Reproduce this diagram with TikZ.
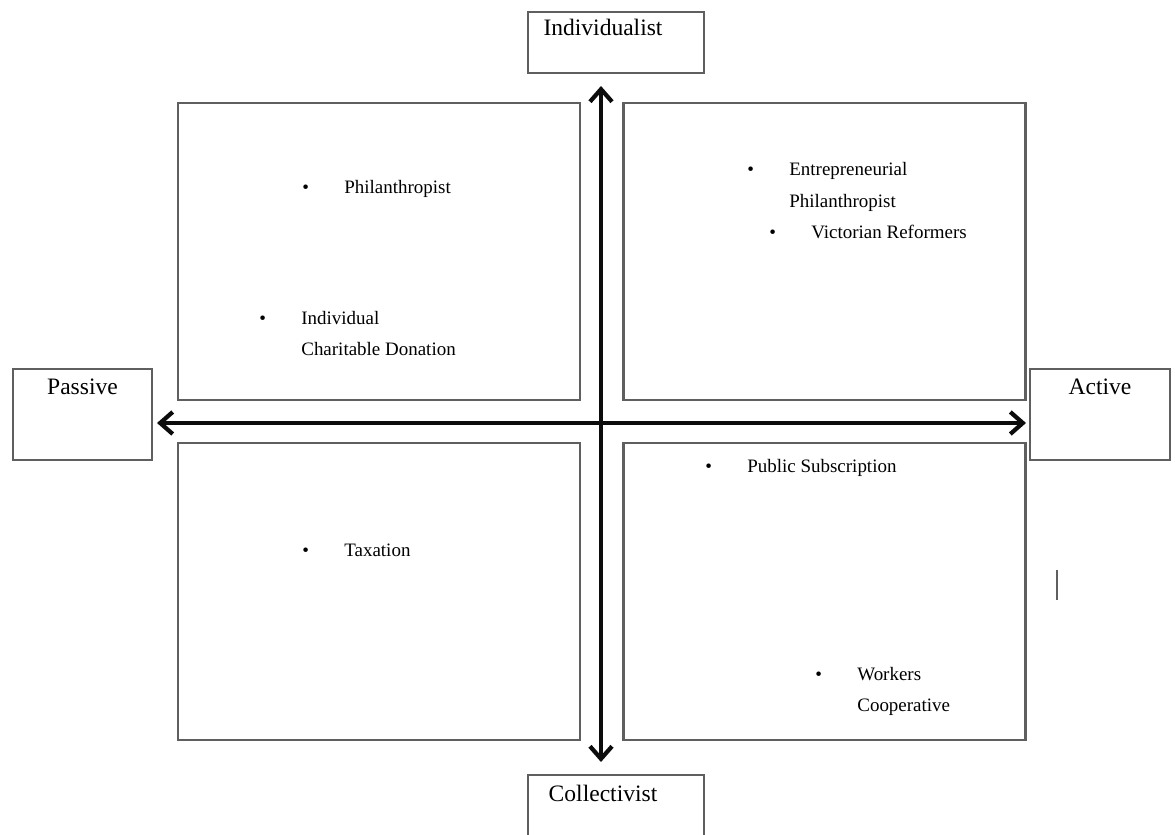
\documentclass[tikz,border=0pt]{standalone}
\usepackage{fontspec}
\setmainfont{Liberation Serif}
\usetikzlibrary{positioning, arrows.meta}
\definecolor{BoxGrey}{RGB}{95, 95, 95}
\definecolor{AxisBlack}{RGB}{12, 12, 12}

\newcommand{\bulletpoint}[1]{%
  \begin{tabular}[t]{@{}p{0.84cm}@{}l@{}}\textbullet & #1\end{tabular}}

\tikzset{
  quadbox/.style={draw=BoxGrey, line width=1.3pt, inner sep=0pt,
                  minimum width=8.04cm, minimum height=5.94cm},
  axisbox/.style={draw=BoxGrey, line width=1.1pt, inner sep=0pt},
  axistext/.style={inner sep=0pt, font=\fontsize{13.4}{16}\selectfont},
  axisarrow/.style={AxisBlack, line width=2.4pt,
                    {Straight Barb[length=2.5mm, width=4.4mm]}-{Straight Barb[length=2.5mm, width=4.4mm]}},
  entry/.style={inner sep=0pt, anchor=base west,
                font=\fontsize{10.8}{18.2}\selectfont}
}

\begin{document}
\begin{tikzpicture}[x=0.02cm, y=-0.02cm]
            \useasboundingbox (0,0) rectangle (1175,834);
            % Four quadrants
            \node[quadbox] (topleft)  at (379, 251.5) {};
            \node[quadbox] (topright) at (824.5, 251.5) {};
            \node[quadbox] (botleft)  at (379, 591.5) {};
            \node[quadbox] (botright) at (824.5, 591.5) {};
            % Axis end labels
            \node[axisbox, minimum width=3.52cm, minimum height=1.22cm] (indiv) at (616, 42.5) {};
            \node[axistext, below=0.15cm of indiv.north, xshift=-0.26cm] (indivtext) {Individualist};
            \node[axisbox, minimum width=3.52cm, minimum height=1.4cm] (collect) at (616, 810) {};
            \node[axistext, below=0.22cm of collect.north, xshift=-0.26cm] (collecttext) {Collectivist};
            \node[axisbox, minimum width=2.78cm, minimum height=1.82cm] (passive) at (82.5, 414.5) {};
            \node[axistext, below=0.22cm of passive.north] (passivetext) {Passive};
            \node[axisbox, minimum width=2.8cm, minimum height=1.82cm] (active) at (1100, 414.5) {};
            \node[axistext, below=0.22cm of active.north] (activetext) {Active};
            % Axes
            \coordinate (vtop)   at (601, 86);
            \coordinate (vbot)   at (601, 762);
            \coordinate (hleft)  at (157, 423);
            \coordinate (hright) at (1026, 423);
            \draw[axisarrow] (vtop) -- (vbot);
            \draw[axisarrow] (hleft) -- (hright);
            % Entries
            \node[entry] (philan) at (302, 194) {\bulletpoint{Philanthropist}};
            \node[entry] (donation) at (259, 324) {\bulletpoint{Individual\\ & Charitable Donation}};
            \node[entry] (entre) at (747, 176) {\bulletpoint{Entrepreneurial\\ & Philanthropist}};
            \node[entry] (victorian) at (769, 239) {\bulletpoint{Victorian Reformers}};
            \node[entry] (public) at (705, 472) {\bulletpoint{Public Subscription}};
            \node[entry] (tax) at (302, 556) {\bulletpoint{Taxation}};
            \node[entry] (workers) at (815, 680) {\bulletpoint{Workers\\ & Cooperative}};
            % Stray cursor mark
            \draw[BoxGrey, line width=1pt] (1057, 570) -- (1057, 600);
        \end{tikzpicture}
\end{document}
